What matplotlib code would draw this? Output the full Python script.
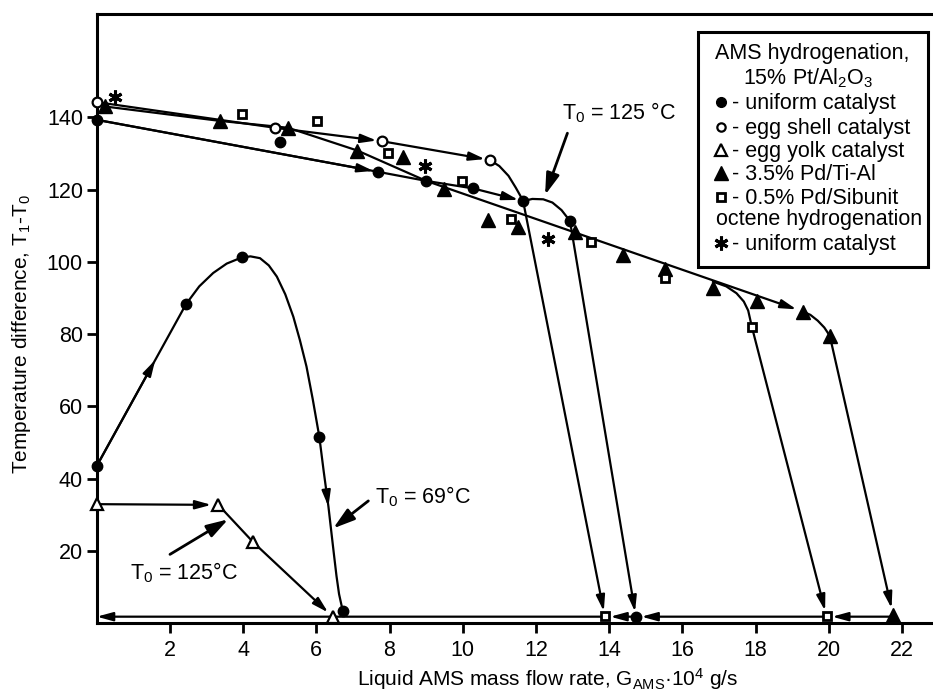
import matplotlib
matplotlib.use("Agg")
import matplotlib.pyplot as plt
from matplotlib.patches import Rectangle

plt.rcParams['font.family'] = ['Liberation Sans', 'DejaVu Sans']
plt.rcParams['mathtext.fontset'] = 'custom'
plt.rcParams['mathtext.rm'] = 'Liberation Sans'
plt.rcParams['mathtext.default'] = 'regular'

# --- data (x: G_AMS*10^4 g/s, y: T1-T0) ---
# AMS hydrogenation, 15% Pt/Al2O3, uniform catalyst, T0 = 125 C
uni_x = [0, 5.0, 7.69, 9.0, 10.29, 11.65, 12.93, 14.73]
uni_y = [139.3, 133.1, 124.9, 122.4, 120.3, 116.8, 111.3, 1.75]
# uniform catalyst, T0 = 69 C
uni69_x = [0, 2.44, 3.96, 6.08, 6.72]
uni69_y = [43.5, 88.3, 101.4, 51.6, 3.4]
# egg shell catalyst
shell_x = [0, 4.87, 7.78, 10.74]
shell_y = [144.2, 137.1, 133.4, 128.2]
# egg yolk catalyst
yolk_x = [0, 3.32, 4.28, 6.46]
yolk_y = [32.9, 32.7, 22.3, 1.6]
# 3.5% Pd/Ti-Al
tial_x = [0.22, 3.37, 5.23, 7.12, 8.37, 9.49, 10.7, 11.52, 13.07, 14.39,
          15.52, 16.84, 18.03, 19.3, 20.03, 21.76]
tial_y = [143, 139, 137.1, 130.8, 129, 120.1, 111.6, 109.7, 108.3, 101.9,
          97.9, 92.7, 89.2, 86.2, 79.5, 2.2]
# 0.5% Pd/Sibunit
sib_x = [3.98, 6.01, 7.96, 9.97, 11.31, 13.5, 15.52, 17.9, 13.88, 19.94]
sib_y = [140.9, 139.1, 130.2, 122.5, 111.8, 105.6, 95.4, 82.0, 1.9, 1.9]
# octene hydrogenation, uniform catalyst
oct_x = [0.5, 8.97, 12.34]
oct_y = [145.7, 126.6, 106.3]

curve69_x = [2.44, 2.8, 3.18, 3.55, 3.96, 4.2, 4.46, 4.7, 4.92, 5.15, 5.37, 5.55,
             5.73, 5.9, 6.08, 6.2, 6.3, 6.33, 6.4, 6.48, 6.55, 6.62, 6.72]
curve69_y = [88.3, 93.2, 96.9, 99.5, 101.2, 101.5, 101.0, 99.0, 95.9, 91.0, 84.8, 78.3,
             71.0, 62.0, 51.6, 42.0, 34.5, 32.2, 26.0, 19.0, 13.0, 8.0, 3.4]
shell_bend_x = [10.74, 11.0, 11.25, 11.45, 11.6, 11.65]
shell_bend_y = [128.2, 126.5, 123.8, 120.5, 117.8, 116.8]
uni_bump_x = [11.65, 11.9, 12.2, 12.45, 12.7, 12.93]
uni_bump_y = [116.8, 117.4, 117.3, 116.4, 114.3, 111.3]
sib_bend_x = [16.84, 17.2, 17.48, 17.68, 17.8, 17.9]
sib_bend_y = [94.5, 93.2, 91.3, 89.0, 86.5, 82.0]
tial_bend_x = [19.3, 19.5, 19.7, 19.88, 20.03]
tial_bend_y = [86.2, 85.3, 83.7, 81.8, 79.5]
base_y = 1.75

xticks = [2, 4, 6, 8, 10, 12, 14, 16, 18, 20, 22]
yticks = [20, 40, 60, 80, 100, 120, 140]

W, H = 933, 691
FS = 15.5
fig = plt.figure(figsize=(W / 100, H / 100), dpi=100)
ax = fig.add_axes([96.8 / W, 68 / H, (W - 96.8) / W, 609 / H])
ax.set_xlim(0, 22.85)
ax.set_ylim(0, 168.6)

LW = 1.6


def px(x, y):
    return (x / W, 1 - y / H)


def line(xs, ys):
    ax.plot(xs, ys, color='k', lw=LW, zorder=2, solid_joinstyle='round')


def arrow(p0, p1, shrink=3.5):
    ax.annotate('', xy=p1, xytext=p0, zorder=3,
                arrowprops=dict(arrowstyle='-|>,head_length=0.95,head_width=0.26',
                                mutation_scale=10, color='k', lw=LW,
                                shrinkA=0, shrinkB=shrink))


# curves
line(curve69_x, curve69_y)
line(shell_bend_x, shell_bend_y)
line(uni_bump_x, uni_bump_y)
line(sib_bend_x, sib_bend_y)
line(tial_bend_x, tial_bend_y)

# T0 = 69 C uniform
line(uni69_x[:2], uni69_y[:2])
arrow((uni69_x[0], uni69_y[0]), (uni69_x[1], uni69_y[1]), shrink=46)
arrow((curve69_x[16], curve69_y[16]), (curve69_x[17], curve69_y[17]), shrink=0)

# T0 = 125 C uniform
line([uni_x[0], uni_x[2]], [uni_y[0], uni_y[2]])
arrow((uni_x[0], uni_y[0]), (uni_x[2], uni_y[2]))
line(uni_x[2:5], uni_y[2:5])
arrow((uni_x[4], uni_y[4]), (uni_x[5], uni_y[5]))
arrow((uni_x[6], uni_y[6]), (uni_x[7], uni_y[7]))

# egg shell
line(shell_x[:2], shell_y[:2])
arrow((shell_x[1], shell_y[1]), (shell_x[2], shell_y[2]))
arrow((shell_x[2], shell_y[2]), (shell_x[3], shell_y[3]))
arrow((shell_bend_x[-1], shell_bend_y[-1]), (sib_x[8], sib_y[8]))

# egg yolk
arrow((yolk_x[0], yolk_y[0]), (yolk_x[1], yolk_y[1]), shrink=5)
line(yolk_x[1:3], yolk_y[1:3])
arrow((yolk_x[2], yolk_y[2]), (yolk_x[3], yolk_y[3]), shrink=5)

# Pd/Ti-Al main line
line(tial_x[:4] + [uni_x[3]], tial_y[:4] + [uni_y[3]])
arrow((uni_x[3], uni_y[3]), (tial_x[13], tial_y[13]), shrink=5)
arrow((tial_x[14], tial_y[14]), (tial_x[15], tial_y[15]), shrink=5)

# Pd/Sibunit drop
arrow((sib_x[7], sib_y[7]), (sib_x[9], sib_y[9]), shrink=4)

# return along the base line
arrow((tial_x[15], base_y), (sib_x[9], base_y), shrink=4)
arrow((sib_x[9], base_y), (uni_x[7], base_y), shrink=4)
arrow((uni_x[7], base_y), (sib_x[8], base_y), shrink=4)
arrow((sib_x[8], base_y), (0, base_y), shrink=0)

# markers
mk = dict(linestyle='none', color='k', zorder=5, clip_on=False)
ax.plot(uni_x, uni_y, marker='o', ms=7.5, **mk)
ax.plot(uni69_x, uni69_y, marker='o', ms=7.5, **mk)
ax.plot(shell_x, shell_y, marker='o', ms=7, mfc='white', mew=1.6, **mk)
ax.plot(yolk_x, yolk_y, marker='^', ms=9, mfc='white', mew=1.6, **mk)
ax.plot(tial_x, tial_y, marker='^', ms=9.5, **mk)
ax.plot(sib_x, sib_y, marker='s', ms=6, mfc='white', mew=2, **mk)
ax.plot(oct_x, oct_y, marker=(6, 2, 0), ms=10, mew=2.2, **mk)

# annotations
aprops = dict(arrowstyle='-|>,head_length=1.3,head_width=0.4', mutation_scale=10,
              color='k', lw=2, shrinkA=0, shrinkB=0)
ax.annotate('', xy=(12.25, 118.5), xytext=(12.86, 135.6), arrowprops=aprops)
ax.text(12.7, 141.2, 'T$_0$ = 125 °C', fontsize=FS, ha='left', va='center')
ax.annotate('', xy=(6.46, 26.2), xytext=(7.42, 33.8), arrowprops=aprops)
ax.text(7.6, 35, 'T$_0$ = 69°C', fontsize=FS, ha='left', va='center')
ax.annotate('', xy=(3.59, 28.7), xytext=(2.0, 19), arrowprops=aprops)
ax.text(0.9, 13.8, 'T$_0$ = 125°C', fontsize=FS, ha='left', va='center')

# axes styling
for s in ['left', 'bottom', 'top']:
    ax.spines[s].set_linewidth(2.2)
ax.spines['right'].set_visible(False)
ax.set_xticks(xticks)
ax.set_yticks(yticks)
ax.tick_params(axis='both', direction='out', length=7, width=2, labelsize=FS)
ax.tick_params(axis='x', pad=5)
ax.tick_params(axis='y', pad=3)

fig.text(*px(548, 679), 'Liquid AMS mass flow rate, G$_{AMS}$·10$^4$ g/s',
         fontsize=15, ha='center', va='center')
fig.text(*px(22, 334), 'Temperature difference, T$_1$-T$_0$',
         fontsize=15, ha='center', va='center', rotation=90)

# legend box drawn by hand
T = fig.transFigure
x0, y0 = px(698, 267)
x1, y1 = px(928, 32)
ax.add_patch(Rectangle((x0, y0), x1 - x0, y1 - y0, transform=T, clip_on=False,
                       facecolor='white', edgecolor='k', lw=2.2, zorder=10))
ax.text(*px(812, 53), 'AMS hydrogenation,', transform=T, fontsize=FS,
        ha='center', va='center', zorder=12)
ax.text(*px(808, 78), '15% Pt/Al$_2$O$_3$', transform=T, fontsize=FS,
        ha='center', va='center', zorder=12)
leg_rows = [
    (101.7, dict(marker='o', ms=7, mfc='k'), '- uniform catalyst'),
    (126.7, dict(marker='o', ms=6, mfc='white', mew=1.6), '- egg shell catalyst'),
    (150.0, dict(marker='^', ms=9, mfc='white', mew=1.6), '- egg yolk catalyst'),
    (173.3, dict(marker='^', ms=9.5, mfc='k'), '- 3.5% Pd/Ti-Al'),
    (196.7, dict(marker='s', ms=5.5, mfc='white', mew=2), '- 0.5% Pd/Sibunit'),
    (243.3, dict(marker=(6, 2, 0), ms=10, mew=2.2), '- uniform catalyst'),
]
for ry, style, label in leg_rows:
    mx, my = px(721, ry)
    ax.plot([mx], [my], transform=T, clip_on=False, color='k', linestyle='none',
            zorder=11, **style)
    ax.text(*px(732, ry + 7), label, transform=T, fontsize=FS, ha='left',
            va='baseline', zorder=12)
ax.text(*px(716, 218.3 + 7), 'octene hydrogenation', transform=T, fontsize=FS,
        ha='left', va='baseline', zorder=12)

fig.savefig('out.png', dpi=100)
